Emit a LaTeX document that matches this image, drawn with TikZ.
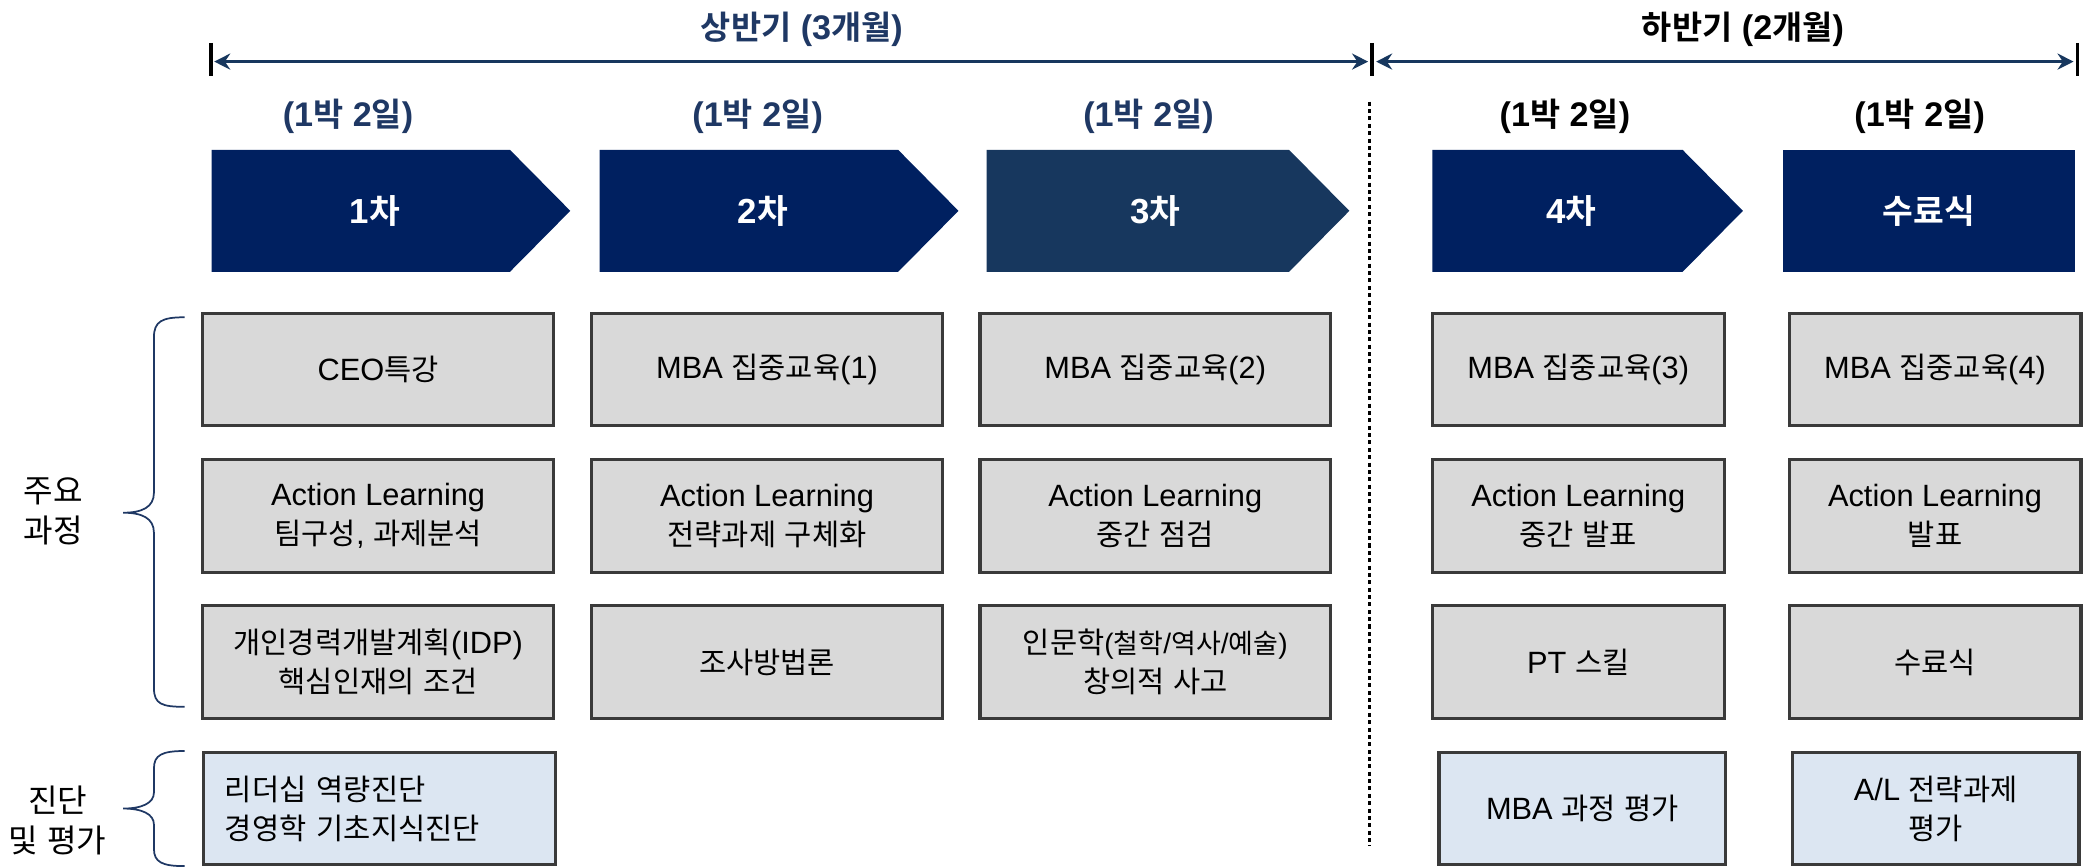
\documentclass[tikz,border=0pt]{standalone}
\usepackage{fontspec}
\setmainfont{Liberation Sans}
\newfontfamily\krfont[Scale=0.96,BoldFont={Noto Sans CJK KR Bold}]{Noto Sans CJK KR}
\usetikzlibrary{arrows.meta}

% hangul runs go to the CJK font
\XeTeXinterchartokenstate=1
\newXeTeXintercharclass\hangulclass
\newcount\hgcnt
\hgcnt="AC00
\loop
  \XeTeXcharclass\hgcnt=\hangulclass
\ifnum\hgcnt<"D7A3
  \advance\hgcnt by 1
\repeat
\XeTeXinterchartoks 0 \hangulclass = {\begingroup\krfont}
\XeTeXinterchartoks 4095 \hangulclass = {\begingroup\krfont}
\XeTeXinterchartoks \hangulclass 0 = {\endgroup}
\XeTeXinterchartoks \hangulclass 4095 = {\endgroup}

\definecolor{navy}{HTML}{002060}
\definecolor{steel}{HTML}{17375E}
\definecolor{titleblue}{HTML}{1F3864}
\definecolor{boxgray}{HTML}{D9D9D9}
\definecolor{boxblue}{HTML}{DCE6F2}
\definecolor{edgegray}{HTML}{3A3A3A}

\tikzset{
  course/.style={draw=edgegray, line width=2.4pt, fill=boxgray, minimum height=84pt, align=center, inner sep=2pt, font=\fontsize{23}{29}\selectfont},
  wide/.style={course, minimum width=262pt},
  slim/.style={course, minimum width=218pt},
  evalbox/.style={course, fill=boxblue, minimum width=214pt},
  chevtxt/.style={text=white, font=\bfseries\fontsize{26}{30}\selectfont},
  hdr/.style={font=\bfseries\fontsize{25.5}{30}\selectfont},
  period/.style={draw=steel, line width=2.4pt, arrows={Stealth[length=12pt,width=12pt,inset=4pt]-Stealth[length=12pt,width=12pt,inset=4pt]}},
  endtick/.style={line width=2.6pt},
  halfsep/.style={line width=2.2pt, dash pattern=on 3pt off 2.5pt},
  curly/.style={draw=titleblue, line width=1.3pt},
  sidelbl/.style={font=\fontsize{25}{30}\selectfont, align=center}
}

\begin{document}
\begin{tikzpicture}[x=1pt,y=1pt,yscale=-1,xscale=1]
\useasboundingbox (0,0) rectangle (1568,648);

% period titles
\node[hdr, text=titleblue] (h1) at (599,22) {상반기 (3개월)};
\node[hdr] (h2) at (1302,22) {하반기 (2개월)};

% period arrows
\coordinate (p1a) at (160,46);
\coordinate (p1b) at (1022,46);
\coordinate (p2a) at (1028,46);
\coordinate (p2b) at (1549,46);
\draw[period] (p1a) -- (p1b);
\draw[period] (p2a) -- (p2b);
\draw[endtick] (157.5,32) -- (157.5,57);
\draw[endtick] (1025,32) -- (1025,57);
\draw[endtick] (1552,32) -- (1552,57);

% half year separator
\draw[halfsep] (1023,76) -- (1023,632);

% stay lengths
\node[hdr, text=titleblue] (d1) at (260,87) {(1박 2일)};
\node[hdr, text=titleblue] (d2) at (566,87) {(1박 2일)};
\node[hdr, text=titleblue] (d3) at (858,87) {(1박 2일)};
\node[hdr] (d4) at (1169,87) {(1박 2일)};
\node[hdr] (d5) at (1434,87) {(1박 2일)};

% stages
\fill[navy] (158,112) -- (381,112) -- (426,157.5) -- (381,203) -- (158,203) -- cycle;
\fill[navy] (448,112) -- (671,112) -- (716,157.5) -- (671,203) -- (448,203) -- cycle;
\fill[steel] (737,112) -- (963,112) -- (1008,157.5) -- (963,203) -- (737,203) -- cycle;
\fill[navy] (1070,112) -- (1257,112) -- (1302,157.5) -- (1257,203) -- (1070,203) -- cycle;
\fill[navy] (1332,112) rectangle (1550,203);
\node[chevtxt] (s1) at (280,157.5) {1차};
\node[chevtxt] (s2) at (570,157.5) {2차};
\node[chevtxt] (s3) at (863,157.5) {3차};
\node[chevtxt] (s4) at (1174,157.5) {4차};
\node[chevtxt] (s5) at (1441,157.5) {수료식};

% row 1
\node[wide] (c11) at (282.5,276) {CEO특강};
\node[wide] (c21) at (573,276) {MBA 집중교육(1)};
\node[wide] (c31) at (863,276) {MBA 집중교육(2)};
\node[slim] (c41) at (1179,276) {MBA 집중교육(3)};
\node[slim] (c51) at (1445.5,276) {MBA 집중교육(4)};

% row 2
\node[wide] (c12) at (282.5,385.5) {Action Learning\\팀구성, 과제분석};
\node[wide] (c22) at (573,385.5) {Action Learning\\전략과제 구체화};
\node[wide] (c32) at (863,385.5) {Action Learning\\중간 점검};
\node[slim] (c42) at (1179,385.5) {Action Learning\\중간 발표};
\node[slim] (c52) at (1445.5,385.5) {Action Learning\\발표};

% row 3
\node[wide] (c13) at (282.5,494.5) {개인경력개발계획(IDP)\\핵심인재의 조건};
\node[wide] (c23) at (573,494.5) {조사방법론};
\node[wide] (c33) at (863,494.5) {인문학{\fontsize{21}{29}\selectfont(철학/역사/예술)}\\창의적 사고};
\node[slim] (c43) at (1179,494.5) {PT 스킬};
\node[slim] (c53) at (1445.5,494.5) {수료식};

% row 4
\node[evalbox, minimum width=263pt, text width=231pt, align=left, inner xsep=16pt] (e1) at (283.5,604) {리더십 역량진단\\경영학 기초지식진단};
\node[evalbox] (e4) at (1182,604) {MBA 과정 평가};
\node[evalbox] (e5) at (1446,604) {A/L 전략과제\\평가};

% side braces
\draw[curly] (138,237) .. controls (121,237) and (115,240) .. (115,252) -- (115,368) .. controls (115,379) and (106,383) .. (92,383) .. controls (106,383) and (115,387) .. (115,398) -- (115,514) .. controls (115,526) and (121,528) .. (138,528);
\draw[curly] (138,561) .. controls (121,561) and (115,564) .. (115,574) -- (115,592) .. controls (115,600) and (106,604) .. (92,604) .. controls (106,604) and (115,608) .. (115,616) -- (115,634) .. controls (115,644) and (121,647) .. (138,647);
\node[sidelbl] (mainlbl) at (40,382) {주요\\과정};
\node[sidelbl] (diaglbl) at (43,613) {진단\\및 평가};

\end{tikzpicture}
\end{document}
